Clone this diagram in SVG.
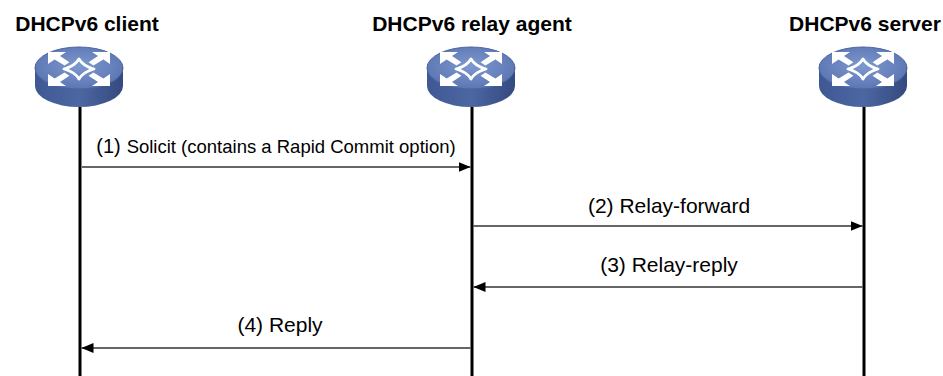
<svg xmlns="http://www.w3.org/2000/svg" width="943" height="376" viewBox="0 0 943 376">
<style>
.title{font-family:"Liberation Sans",Arial,sans-serif;font-weight:bold;font-size:21px;fill:#000;text-anchor:middle}
.lbl{font-family:"Liberation Sans",Arial,sans-serif;font-size:21px;fill:#000;text-anchor:middle}
.life{stroke:#000;stroke-width:3}
.msg{stroke:#333;stroke-width:1.3;fill:none}
.top{fill:url(#gTop);stroke:#4a64a0;stroke-width:1}
.side{fill:url(#gSide)}
.ico{fill:#fff}
.cross{fill:none;stroke:#fff;stroke-width:2.8;stroke-linejoin:round}
</style>
<defs>
<radialGradient id="gTop" cx="0.5" cy="0.45" r="0.6">
<stop offset="0" stop-color="#7e98cf"/>
<stop offset="1" stop-color="#5873b0"/>
</radialGradient>
<linearGradient id="gSide" x1="0" y1="0" x2="1" y2="0">
<stop offset="0" stop-color="#3f5893"/>
<stop offset="0.5" stop-color="#4d67a3"/>
<stop offset="1" stop-color="#34497f"/>
</linearGradient>
<marker id="ah" viewBox="0 0 12 10" refX="12" refY="5" markerWidth="12" markerHeight="10" markerUnits="userSpaceOnUse" orient="auto">
<path d="M0,0 L12,5 L0,10 Z" fill="#000"/>
</marker>
<g id="router">
<path class="side" d="M-44,0 L-44,18 A44,21 0 0 0 44,18 L44,0 Z"/>
<ellipse class="top" cx="0" cy="0" rx="44" ry="21"/>
<g id="arrowTL">
<polygon class="ico" points="-31,-16 -13,-16 -19,-12 -9.6,-5.8 -14.4,-2.4 -24.4,-8.4 -31,-4"/>
</g>
<use href="#arrowTL" transform="scale(-1,1)"/>
<use href="#arrowTL" transform="scale(1,-1) translate(0,-2)"/>
<use href="#arrowTL" transform="scale(-1,-1) translate(0,-2)"/>
<path class="cross" d="M0,-9 Q4,-2 15,1 Q4,4 0,11 Q-4,4 -15,1 Q-4,-2 0,-9 Z"/>
</g>
</defs>

<g id="client">
<text class="title" x="87" y="31">DHCPv6 client</text>
<use href="#router" x="79" y="68"/>
</g>
<g id="relay">
<text class="title" x="472" y="31">DHCPv6 relay agent</text>
<use href="#router" x="471" y="68"/>
</g>
<g id="server">
<text class="title" x="865" y="31">DHCPv6 server</text>
<use href="#router" x="863" y="68"/>
</g>

<g id="connectors">
<line class="life" x1="80" y1="107" x2="80" y2="376"/>
<line class="life" x1="472" y1="107" x2="472" y2="376"/>
<line class="life" x1="864" y1="107" x2="864" y2="376"/>
<line class="msg" x1="82" y1="167" x2="470.5" y2="167" marker-end="url(#ah)"/>
<line class="msg" x1="473.5" y1="226" x2="862.5" y2="226" marker-end="url(#ah)"/>
<line class="msg" x1="862.5" y1="287" x2="473.5" y2="287" marker-end="url(#ah)"/>
<line class="msg" x1="470.5" y1="348" x2="81.5" y2="348" marker-end="url(#ah)"/>
<text class="lbl" x="276" y="153"><tspan font-size="20">(1)</tspan> <tspan font-size="18.5">Solicit (contains a Rapid Commit option)</tspan></text>
<text class="lbl" x="669" y="213">(2) Relay-forward</text>
<text class="lbl" x="669" y="272">(3) Relay-reply</text>
<text class="lbl" x="280" y="332">(4) Reply</text>
</g>
</svg>
